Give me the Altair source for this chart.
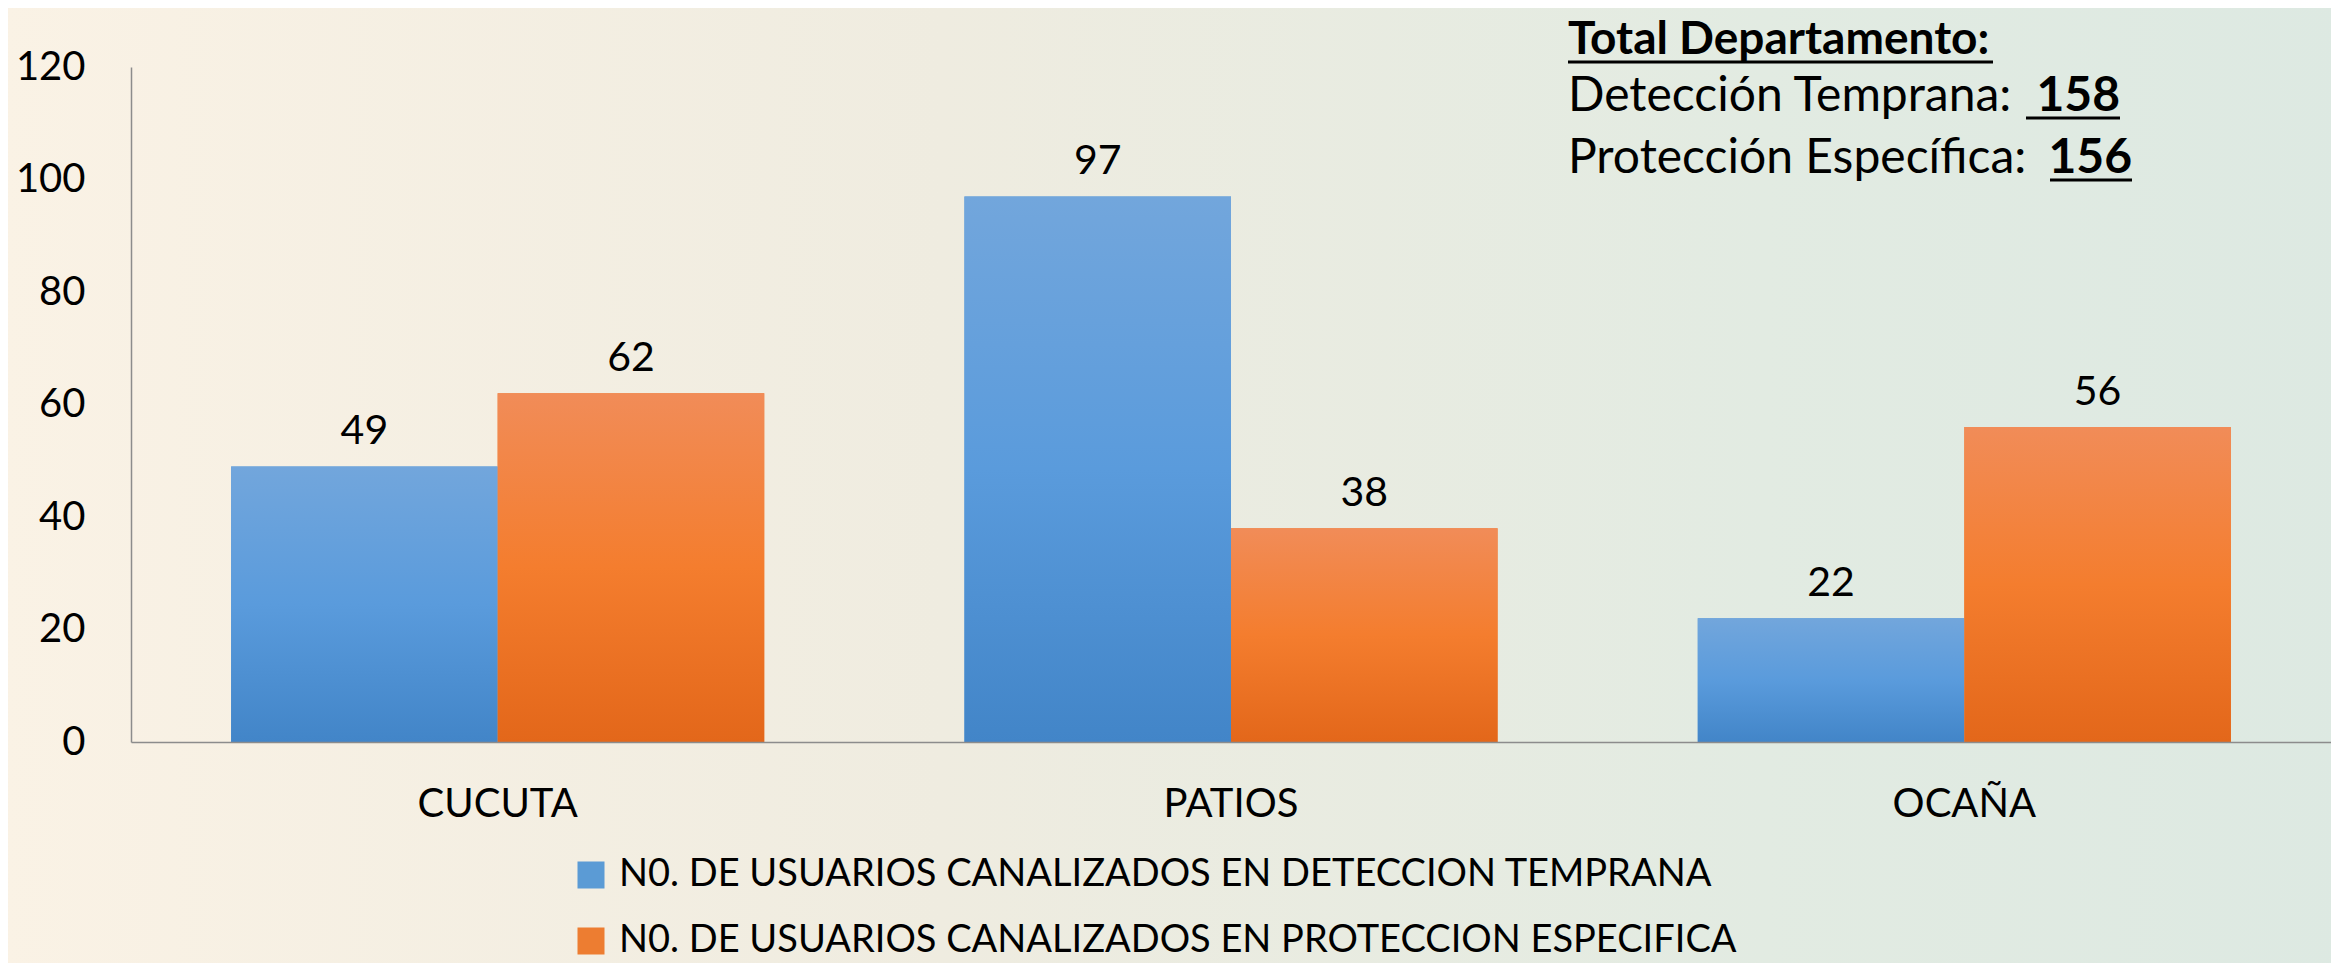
import altair as alt
import pandas as pd

categories = ["CUCUTA", "PATIOS", "OCAÑA"]
series = [
    "N0. DE USUARIOS CANALIZADOS EN DETECCION TEMPRANA",
    "N0. DE USUARIOS CANALIZADOS EN PROTECCION ESPECIFICA",
]
deteccion = [49, 97, 22]
proteccion = [62, 38, 56]
y_ticks = [0, 20, 40, 60, 80, 100, 120]

total_title = "Total Departamento:"
total_lines = ["Detección Temprana:", "Protección Específica:"]
total_values = ["158", "156"]

rows = []
for c, a, b in zip(categories, deteccion, proteccion):
    rows.append({"cat": c, "serie": series[0], "valor": a})
    rows.append({"cat": c, "serie": series[1], "valor": b})
df = pd.DataFrame(rows)
dummy = pd.DataFrame({"k": [0]})

FONT = "Lato"
W, H = 2200, 675

def grad(stops):
    return alt.Gradient(
        gradient="linear",
        stops=[alt.GradientStop(color=c, offset=o) for o, c in stops],
        x1=0, x2=0, y1=0, y2=1,
    )

blue_grad = grad([(0, "#72a6dc"), (0.5, "#5a9bdc"), (1, "#4285c8")])
orange_grad = grad([(0, "#f18c58"), (0.5, "#f47d2e"), (1, "#e3671a")])
bg_grad = alt.Gradient(
    gradient="linear",
    stops=[
        alt.GradientStop(color="#faf2e5", offset=0),
        alt.GradientStop(color="#efece0", offset=0.4),
        alt.GradientStop(color="#e2ebe2", offset=0.75),
        alt.GradientStop(color="#dde9e2", offset=1),
    ],
    x1=0, x2=1, y1=0, y2=0,
)

bg = alt.Chart(dummy).mark_rect(fill=bg_grad).encode(
    x=alt.value(-131), x2=alt.value(W + 20), y=alt.value(-67), y2=alt.value(H + 240)
)

xenc = alt.X(
    "cat:N",
    sort=categories,
    scale=alt.Scale(paddingInner=0.273, paddingOuter=0.1365),
    axis=alt.Axis(
        title=None, ticks=False, labelAngle=0, labelFont=FONT, labelFontSize=40,
        labelColor="#000000", domainColor="#8c8c8c", domainWidth=1.5, labelPadding=42,
        zindex=1,
    ),
)
xoff = alt.XOffset("serie:N", scale=alt.Scale(domain=series))
yenc = alt.Y(
    "valor:Q",
    scale=alt.Scale(domain=[0, 120], nice=False),
    axis=alt.Axis(
        title=None, values=y_ticks, ticks=False, grid=False, labelFont=FONT,
        labelFontSize=40, labelColor="#000000", domainColor="#8c8c8c",
        domainWidth=1.5, labelPadding=46, zindex=1,
    ),
)

base = alt.Chart(df).mark_bar().encode(
    x=xenc, xOffset=xoff, y=yenc,
    color=alt.Color(
        "serie:N",
        scale=alt.Scale(domain=series, range=["#5b9bd5", "#ed7d31"]),
        legend=alt.Legend(
            orient="none", legendX=441, legendY=789, title=None, symbolType="square",
            symbolSize=729, symbolStrokeWidth=0, labelFont=FONT, labelFontSize=38,
            labelColor="#000000", rowPadding=28, labelOffset=9, padding=0,
            labelLimit=2000,
        ),
    ),
)

blue_bars = alt.Chart(df).mark_bar(fill=blue_grad).encode(
    x=xenc, xOffset=xoff, y=yenc
).transform_filter(alt.datum.serie == series[0])
orange_bars = alt.Chart(df).mark_bar(fill=orange_grad).encode(
    x=xenc, xOffset=xoff, y=yenc
).transform_filter(alt.datum.serie == series[1])

labels = alt.Chart(df).mark_text(
    font=FONT, fontSize=41, baseline="alphabetic", dy=-22, color="#000000"
).encode(x=xenc, xOffset=xoff, y=yenc, text="valor:Q")

def txt(s, x, y, bold=False, align="left", size=48):
    return alt.Chart(dummy).mark_text(
        text=s, font=FONT, fontSize=size, fontWeight="bold" if bold else "normal",
        align=align, baseline="alphabetic", color="#000000",
    ).encode(x=alt.value(x), y=alt.value(y))

def uline(x1, x2, y):
    return alt.Chart(dummy).mark_rule(color="#000000", strokeWidth=3).encode(
        x=alt.value(x1), x2=alt.value(x2), y=alt.value(y)
    )

ann = [
    txt(total_title, 1437, -13, bold=True, size=46),
    uline(1437, 1862, -5),
    txt(total_lines[0], 1437, 44),
    txt(total_values[0], 1989, 44, bold=True, align="right"),
    uline(1895, 1989, 51),
    txt(total_lines[1], 1437, 106),
    txt(total_values[1], 2001, 106, bold=True, align="right"),
    uline(1919, 2001, 113),
]

chart = alt.layer(bg, base, blue_bars, orange_bars, labels, *ann).properties(
    width=W, height=H,
    autosize=alt.AutoSizeParams(type="none"),
    padding={"left": 123, "top": 59, "right": 0, "bottom": 221},
    background="#f1eee3",
).configure_view(stroke=None)

chart.save("out.html", embed_options={"renderer": "svg", "actions": False})
